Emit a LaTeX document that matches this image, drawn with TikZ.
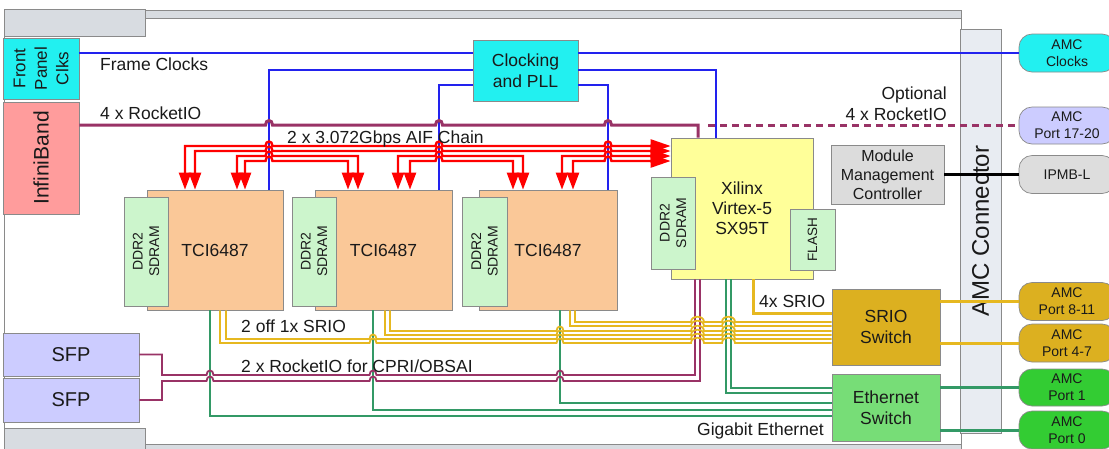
\documentclass[tikz,border=0pt]{standalone}
\usepackage{fontspec}
\setmainfont{Liberation Sans}
\usetikzlibrary{arrows.meta}
\definecolor{cyanbox}{HTML}{22F0F0}
\definecolor{salmon}{HTML}{FF9C9C}
\definecolor{lav}{HTML}{CCCCFF}
\definecolor{tcior}{HTML}{FAC898}
\definecolor{ddrg}{HTML}{CCF5CC}
\definecolor{xily}{HTML}{FFFF99}
\definecolor{mmcg}{HTML}{DCDCDC}
\definecolor{goldb}{HTML}{DCB020}
\definecolor{ethg}{HTML}{77DD77}
\definecolor{portg}{HTML}{33CC33}
\definecolor{ipmbg}{HTML}{DDDDDD}
\definecolor{conng}{HTML}{E8ECF2}
\definecolor{edge}{HTML}{8A8A8A}
\definecolor{bluel}{HTML}{2222EE}
\definecolor{redl}{HTML}{FF0000}
\definecolor{purl}{HTML}{993366}
\definecolor{greenl}{HTML}{339966}
\definecolor{goldl}{HTML}{E6B820}
\definecolor{barg}{HTML}{D8DCE1}
\definecolor{txt}{HTML}{1A1A1A}
\begin{document}
\begin{tikzpicture}[x=1pt,y=-1pt,
  box/.style={draw=edge, line width=0.7pt, inner sep=0pt, align=center, text=txt, font=\fontsize{17.5}{20.5}\selectfont},
  portbox/.style={box, rounded corners=13pt, minimum width=96pt, font=\fontsize{14}{17}\selectfont},
  ddrbox/.style={box, fill=ddrg, rotate=90, font=\fontsize{14}{16.5}\selectfont},
  lbl/.style={inner sep=0pt, text=txt, font=\fontsize{17.5}{20.5}\selectfont},
  bl/.style={draw=bluel, line width=1.8pt},
  rl/.style={draw=redl, line width=2.4pt, {Triangle[length=17pt,width=12pt]}-{Triangle[length=17pt,width=12pt]}},
  rlx/.style={draw=redl, line width=2.4pt, {Triangle[length=17pt,width=12pt]}-{Triangle[length=20pt,width=13pt]}},
  pth/.style={draw=purl, line width=3pt},
  pthin/.style={draw=purl, line width=1.8pt},
  gl/.style={draw=goldl, line width=1.8pt},
  gn/.style={draw=greenl, line width=1.7pt},
  hopover/.style args={#1/#2}{insert path={-- (#1-3.5,#2) .. controls (#1-3.5,#2-6) and (#1+3.5,#2-6) .. (#1+3.5,#2)}},
  hopwide/.style args={#1/#2}{insert path={-- (#1-6.5,#2) .. controls (#1-6.5,#2-7) and (#1+6.5,#2-7) .. (#1+6.5,#2)}}
]
\useasboundingbox (0,0) rectangle (1109,448);
\clip (0,0) rectangle (1109,448);
\fill[white] (0,0) rectangle (1109,448);

% board frame
\draw[edge, line width=0.7pt] (4,36) -- (4,428);
\draw[edge, line width=0.7pt] (961,18) -- (961,444);
\draw[draw=edge, fill=barg, line width=0.7pt] (145,10) rectangle (961,18);
\draw[draw=edge, fill=barg, line width=0.7pt] (145,444) rectangle (961,452);
\draw[draw=edge, fill=barg, line width=0.7pt] (4,9) rectangle (145,36);
\draw[draw=edge, fill=barg, line width=0.7pt] (4,428) rectangle (145,452);

% connector
\node[box, fill=conng, rotate=90, minimum width=404pt, minimum height=41pt, font=\fontsize{24}{26}\selectfont] (conn) at (980.5,231) {AMC Connector};

% boxes
\node[box, fill=cyanbox, rotate=90, minimum width=61pt, minimum height=76pt, font=\fontsize{17}{21.5}\selectfont] (fpc) at (41,68.5) {Front\\Panel\\Clks};
\node[box, fill=salmon, rotate=90, minimum width=112pt, minimum height=76pt, font=\fontsize{21}{24}\selectfont] (ib) at (41,158) {InfiniBand};
\node[box, fill=cyanbox, minimum width=105pt, minimum height=61pt] (clk) at (525.5,70.5) {Clocking\\and PLL};

\node[box, fill=tcior, minimum width=136pt, minimum height=120pt] (tci1) at (215,250) {TCI6487};
\node[ddrbox, minimum width=109pt, minimum height=44pt] (ddr1) at (146,251.5) {DDR2\\SDRAM};
\node[box, fill=tcior, minimum width=137pt, minimum height=120pt] (tci2) at (383.5,250) {TCI6487};
\node[ddrbox, minimum width=109pt, minimum height=44pt] (ddr2) at (314,251.5) {DDR2\\SDRAM};
\node[box, fill=tcior, minimum width=138pt, minimum height=120pt] (tci3) at (548,250) {TCI6487};
\node[ddrbox, minimum width=109pt, minimum height=45pt] (ddr3) at (484.5,251.5) {DDR2\\SDRAM};

\node[box, fill=xily, minimum width=142pt, minimum height=141pt, font=\fontsize{17.5}{20}\selectfont] (xil) at (742,208.5) {Xilinx\\Virtex-5\\SX95T};
\node[ddrbox, minimum width=92pt, minimum height=44pt] (xddr) at (673,223) {DDR2\\SDRAM};
\node[box, fill=ddrg, rotate=90, minimum width=61pt, minimum height=45pt, font=\fontsize{13.5}{16}\selectfont] (flash) at (812.5,239.5) {FLASH};

\node[box, fill=mmcg, minimum width=113pt, minimum height=59pt, font=\fontsize{16}{19}\selectfont] (mmc) at (887.5,174.5) {Module\\Management\\Controller};
\node[box, fill=goldb, minimum width=108pt, minimum height=76pt, font=\fontsize{17.5}{20.5}\selectfont] (srio) at (886,327) {SRIO\\Switch};
\node[box, fill=ethg, minimum width=108pt, minimum height=67pt, font=\fontsize{17.5}{21}\selectfont] (eth) at (886,407.5) {Ethernet\\Switch};

\node[box, fill=lav, minimum width=136pt, minimum height=43pt, font=\fontsize{20}{22}\selectfont] (sfp1) at (71,354.5) {SFP};
\node[box, fill=lav, minimum width=136pt, minimum height=44pt, font=\fontsize{20}{22}\selectfont] (sfp2) at (71,400) {SFP};

% ports
\node[portbox, fill=cyanbox, minimum height=38pt] (pclk) at (1067,53) {AMC\\Clocks};
\node[portbox, fill=lav, minimum height=37pt] (p1720) at (1067,125.5) {AMC\\Port 17-20};
\node[portbox, fill=ipmbg, minimum height=38pt] (ipmb) at (1067,174.5) {IPMB-L};
\node[portbox, fill=goldb, minimum height=38pt] (p811) at (1067,301.5) {AMC\\Port 8-11};
\node[portbox, fill=goldb, minimum height=38pt] (p47) at (1067,343) {AMC\\Port 4-7};
\node[portbox, fill=portg, minimum height=37pt] (p1) at (1067,387.5) {AMC\\Port 1};
\node[portbox, fill=portg, minimum height=38pt] (p0) at (1067,430) {AMC\\Port 0};

% blue clock lines
\draw[bl] (fpc.south |- 0,53) -- (clk.west |- 0,53);
\draw[bl] (clk.east |- 0,53) -- (pclk.west |- 0,53);
\draw[bl] (clk.west |- 0,70) -| (tci1.north -| 269,0);
\draw[bl] (clk.west |- 0,85) -| (tci2.north -| 439,0);
\draw[bl] (clk.east |- 0,70) -| (xil.north -| 716,0);
\draw[bl] (clk.east |- 0,85) -| (tci3.north -| 608,0);

% 4 x RocketIO
\draw[pth] (ib.south |- 0,125) [hopover=269/125] [hopover=439/125] [hopover=608/125] -- (698,125) -- (xil.north -| 698,0);
\draw[pth, dash pattern=on 7pt off 5pt] (708,125) -- (p1720.west |- 0,125);

% AIF chain
\draw[rlx] (tci1.north -| 185,0) -- (185,146) [hopover=269/146] [hopover=439/146] [hopover=608/146] -- (xil.west |- 0,146);
\draw[rlx] (tci1.north -| 195,0) -- (195,151) [hopover=269/151] [hopover=439/151] [hopover=608/151] -- (xil.west |- 0,151);
\draw[rl] (tci1.north -| 237,0) -- (237,156) [hopover=269/156] -- (358,156) -- (tci2.north -| 358,0);
\draw[rl] (tci1.north -| 245,0) -- (245,161) [hopover=269/161] -- (348,161) -- (tci2.north -| 348,0);
\draw[rl] (tci2.north -| 398,0) -- (398,156) [hopover=439/156] -- (523,156) -- (tci3.north -| 523,0);
\draw[rl] (tci2.north -| 410,0) -- (410,161) [hopover=439/161] -- (513,161) -- (tci3.north -| 513,0);
\draw[rlx] (tci3.north -| 562,0) -- (562,156) [hopover=608/156] -- (xil.west |- 0,156);
\draw[rlx] (tci3.north -| 573,0) -- (573,161) [hopover=608/161] -- (xil.west |- 0,161);

% Gigabit Ethernet
\draw[gn] (tci1.south -| 210,0) |- (eth.west |- 0,416);
\draw[gn] (tci2.south -| 373,0) |- (eth.west |- 0,410);
\draw[gn] (tci3.south -| 560,0) |- (eth.west |- 0,403);
\draw[gn] (xil.south -| 726,0) |- (eth.west |- 0,393);
\draw[gn] (xil.south -| 731,0) |- (eth.west |- 0,388);

% CPRI/OBSAI
\draw[pthin] (sfp1.east) -- (162,354.5) -- (162,375) [hopover=210/375] [hopover=373/375] [hopover=560/375] -- (695,375) -- (xil.south -| 695,0);
\draw[pthin] (sfp2.east) -- (162,400) -- (162,381) [hopover=210/381] [hopover=373/381] [hopover=560/381] -- (700,381) -- (xil.south -| 700,0);

% SRIO
\draw[gl] (tci1.south -| 220,0) -- (220,343) [hopover=373/343] [hopover=560/343] [hopwide=697.5/343] [hopwide=728.5/343] -- (srio.west |- 0,343);
\draw[gl] (tci1.south -| 226,0) -- (226,339) [hopover=373/339] [hopover=560/339] [hopwide=697.5/339] [hopwide=728.5/339] -- (srio.west |- 0,339);
\draw[gl] (tci2.south -| 385,0) -- (385,335) [hopover=560/335] [hopwide=697.5/335] [hopwide=728.5/335] -- (srio.west |- 0,335);
\draw[gl] (tci2.south -| 390,0) -- (390,331) [hopover=560/331] [hopwide=697.5/331] [hopwide=728.5/331] -- (srio.west |- 0,331);
\draw[gl] (tci3.south -| 570,0) -- (570,326) [hopwide=697.5/326] [hopwide=728.5/326] -- (srio.west |- 0,326);
\draw[gl] (tci3.south -| 575,0) -- (575,322) [hopwide=697.5/322] [hopwide=728.5/322] -- (srio.west |- 0,322);
\draw[draw=goldl, line width=3pt] (xil.south -| 753,0) |- (srio.west |- 0,313);

% to ports
\draw[black, line width=3pt] (mmc.east) -- (ipmb.west |- mmc.east);
\draw[draw=goldl, line width=3pt] (srio.east |- p811.west) -- (p811.west);
\draw[draw=goldl, line width=3pt] (srio.east |- p47.west) -- (p47.west);
\draw[draw=greenl, line width=3pt] (eth.east |- p1.west) -- (p1.west);
\draw[draw=greenl, line width=3pt] (eth.east |- p0.west) -- (p0.west);

% labels
\node[lbl, anchor=base west] (lfc) at (100,70) {Frame Clocks};
\node[lbl, anchor=base west] (lri) at (100,119) {4 x RocketIO};
\node[lbl, anchor=base west] (laif) at (287,143) {2 x 3.072Gbps AIF Chain};
\node[lbl, anchor=north east, align=right] (lopt) at (947,87) {Optional\\4 x RocketIO};
\node[lbl, anchor=base west] (lsrio) at (241,332) {2 off 1x SRIO};
\node[lbl, anchor=base west] (lcpri) at (241,372) {2 x RocketIO for CPRI/OBSAI};
\node[lbl, anchor=base west] (lgbe) at (697,435) {Gigabit Ethernet};
\node[lbl, anchor=base west] (l4x) at (759,307) {4x SRIO};
\end{tikzpicture}
\end{document}
